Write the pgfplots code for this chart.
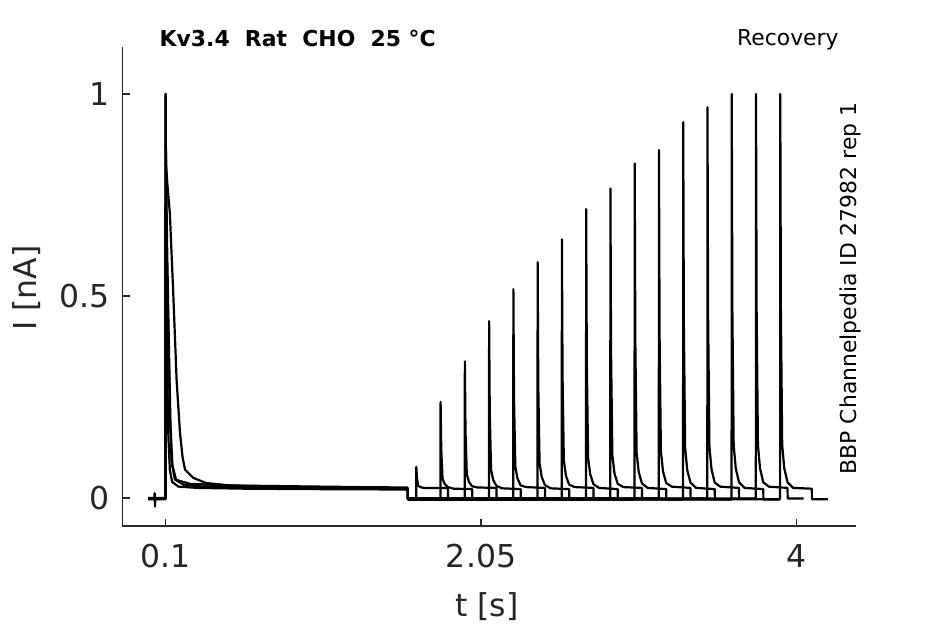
\documentclass[border=0pt]{standalone}
\usepackage{fontspec}
\setmainfont{DejaVu Sans}
\usepackage{pgfplots}
\pgfplotsset{compat=1.18}
\definecolor{axgray}{RGB}{38,38,38}
\begin{document}
\begin{tikzpicture}
\begin{axis}[
  scale only axis, width=366.9bp, height=239.5bp,
  xmin=-0.168, xmax=4.369, ymin=-0.0693, ymax=1.1163,
  axis x line*=bottom, axis y line*=left,
  axis line style={color=axgray, line width=0.6bp},
  tick style={color=axgray, line width=0.6bp},
  tick align=inside, major tick length=3.75bp,
  xtick={0.1,2.05,4}, xticklabels={0.1,2.05,4},
  ytick={0,0.5,1}, yticklabels={0,0.5,1},
  ticklabel style={font=\fontsize{15.75bp}{18bp}\selectfont, text=axgray},
  xticklabel style={yshift=-5.75bp},
  yticklabel style={xshift=-2.75bp},
  xlabel={t [s]}, ylabel={I [nA]},
  label style={font=\fontsize{15.75bp}{18bp}\selectfont, text=axgray, inner sep=0pt},
  xlabel style={at={(axis description cs:0.4966,-0.1879)}, anchor=base},
  ylabel style={at={(axis description cs:-0.1166,0.4969)}, anchor=base},
  cycle list={{black}},
  every axis plot post/.append style={black, solid, line width=1.1bp, line join=round, mark=none},
]
% ---- first pulse, overlapping sweeps (0 to 1.6 s)
\addplot coordinates {(-0.008,-0.002) (0.030,-0.002) (0.032,0.012) (0.034,-0.021) (0.036,-0.002) (0.099,-0.002) (0.1,1.0) (0.102,0.80) (0.108,0.58) (0.116,0.42) (0.126,0.21) (0.137,0.09) (0.157,0.046) (0.21,0.033) (0.3,0.029) (0.5,0.027) (0.8,0.026) (1.2,0.025) (1.596,0.024) (1.597,-0.003)};
\addplot coordinates {(-0.008,0) (0.099,0) (0.1,0.99) (0.101,0.75) (0.105,0.5) (0.110,0.3) (0.117,0.15) (0.126,0.07) (0.14,0.04) (0.18,0.028) (0.3,0.025) (0.6,0.023) (1.0,0.022) (1.596,0.021) (1.597,-0.001)};
\addplot coordinates {(-0.008,-0.003) (0.099,-0.003) (0.1,1.0) (0.102,0.82) (0.11,0.6) (0.12,0.38) (0.13,0.18) (0.142,0.08) (0.165,0.045) (0.25,0.035) (0.5,0.031) (0.9,0.029) (1.3,0.027) (1.596,0.026) (1.597,-0.004)};
\addplot coordinates {(-0.008,-0.001) (0.099,-0.001) (0.1,1.0) (0.102,0.83) (0.11,0.78) (0.126,0.705) (0.147,0.507) (0.168,0.29) (0.189,0.16) (0.205,0.10) (0.22,0.07) (0.27,0.05) (0.35,0.037) (0.5,0.031) (0.8,0.028) (1.2,0.026) (1.596,0.024) (1.597,-0.002)};
% ---- recovery test pulses, one per sweep
\addplot coordinates {(1.597,-0.002) (1.649,-0.002) (1.65,0.077) (1.654,0.048) (1.662,0.030) (1.675,0.027) (1.695,0.025) (1.73,0.025) (1.845,0.025) (1.846,-0.002) (1.945,-0.002)};
\addplot coordinates {(1.597,-0.004) (1.799,-0.004) (1.80,0.238) (1.804,0.120) (1.812,0.048) (1.825,0.035) (1.845,0.027) (1.88,0.023) (1.995,0.022) (1.996,-0.004) (2.095,-0.004)};
\addplot coordinates {(1.597,-0.001) (1.949,-0.001) (1.95,0.338) (1.954,0.165) (1.962,0.059) (1.975,0.040) (1.995,0.029) (2.03,0.026) (2.145,0.025) (2.146,-0.001) (2.245,-0.001)};
\addplot coordinates {(1.597,-0.003) (2.099,-0.003) (2.10,0.438) (2.104,0.210) (2.112,0.070) (2.125,0.045) (2.145,0.030) (2.18,0.024) (2.295,0.022) (2.296,-0.003) (2.395,-0.003)};
\addplot coordinates {(1.597,-0.002) (2.249,-0.002) (2.25,0.517) (2.254,0.246) (2.262,0.078) (2.275,0.049) (2.295,0.031) (2.33,0.027) (2.445,0.025) (2.446,-0.002) (2.545,-0.002)};
\addplot coordinates {(1.597,-0.004) (2.399,-0.004) (2.40,0.584) (2.404,0.276) (2.412,0.086) (2.425,0.052) (2.445,0.032) (2.48,0.024) (2.595,0.022) (2.596,-0.004) (2.695,-0.004)};
\addplot coordinates {(1.597,-0.001) (2.549,-0.001) (2.55,0.640) (2.554,0.301) (2.562,0.092) (2.575,0.055) (2.595,0.033) (2.63,0.027) (2.745,0.025) (2.746,-0.001) (2.845,-0.001)};
\addplot coordinates {(1.597,-0.003) (2.699,-0.003) (2.70,0.715) (2.704,0.335) (2.712,0.100) (2.725,0.059) (2.745,0.034) (2.78,0.025) (2.895,0.022) (2.896,-0.003) (2.995,-0.003)};
\addplot coordinates {(1.597,-0.002) (2.849,-0.002) (2.85,0.766) (2.854,0.358) (2.862,0.106) (2.875,0.061) (2.895,0.035) (2.93,0.027) (3.045,0.025) (3.046,-0.002) (3.145,-0.002)};
\addplot coordinates {(1.597,-0.004) (2.999,-0.004) (3.00,0.828) (3.004,0.386) (3.012,0.112) (3.025,0.064) (3.045,0.036) (3.08,0.025) (3.195,0.022) (3.196,-0.004) (3.295,-0.004)};
\addplot coordinates {(1.597,-0.001) (3.149,-0.001) (3.15,0.861) (3.154,0.401) (3.162,0.116) (3.175,0.066) (3.195,0.037) (3.23,0.028) (3.345,0.025) (3.346,-0.001) (3.445,-0.001)};
\addplot coordinates {(1.597,-0.003) (3.299,-0.003) (3.30,0.930) (3.304,0.432) (3.312,0.124) (3.325,0.069) (3.345,0.038) (3.38,0.025) (3.495,0.022) (3.496,-0.003) (3.595,-0.003)};
\addplot coordinates {(1.597,-0.002) (3.449,-0.002) (3.45,0.967) (3.454,0.448) (3.462,0.128) (3.475,0.071) (3.495,0.038) (3.53,0.028) (3.645,0.025) (3.646,-0.002) (3.745,-0.002)};
\addplot coordinates {(1.597,-0.004) (3.599,-0.004) (3.60,1.0) (3.604,0.463) (3.612,0.131) (3.625,0.073) (3.645,0.039) (3.68,0.025) (3.795,0.022) (3.796,-0.004) (3.895,-0.004)};
\addplot coordinates {(1.597,-0.001) (3.749,-0.001) (3.75,1.0) (3.754,0.463) (3.762,0.131) (3.775,0.073) (3.795,0.039) (3.83,0.028) (3.945,0.025) (3.946,-0.001) (4.045,-0.001)};
\addplot coordinates {(1.597,-0.003) (3.899,-0.003) (3.90,1.0) (3.904,0.463) (3.912,0.131) (3.925,0.073) (3.945,0.039) (3.98,0.025) (4.095,0.023) (4.096,-0.003) (4.195,-0.003)};
\end{axis}
\pgfresetboundingbox
\path[use as bounding box] (current axis.south west) ++(-61.15bp,-49bp) rectangle ++(472.5bp,312bp);
\path (current axis.south west) ++(18.5bp,239.65bp) node[anchor=base west, inner sep=0pt, font=\fontsize{10.95bp}{13bp}\selectfont\bfseries] {Kv3.4\ \ Rat\ \ CHO\ \ 25 °C};
\path (current axis.south west) ++(307.2bp,240bp) node[anchor=base west, inner sep=0pt, font=\fontsize{10.95bp}{13bp}\selectfont] {Recovery};
\path (current axis.south west) ++(367.2bp,25.65bp) node[anchor=base west, rotate=90, inner sep=0pt, font=\fontsize{10.95bp}{13bp}\selectfont] {BBP Channelpedia ID 27982 rep 1};
\end{tikzpicture}
\end{document}
